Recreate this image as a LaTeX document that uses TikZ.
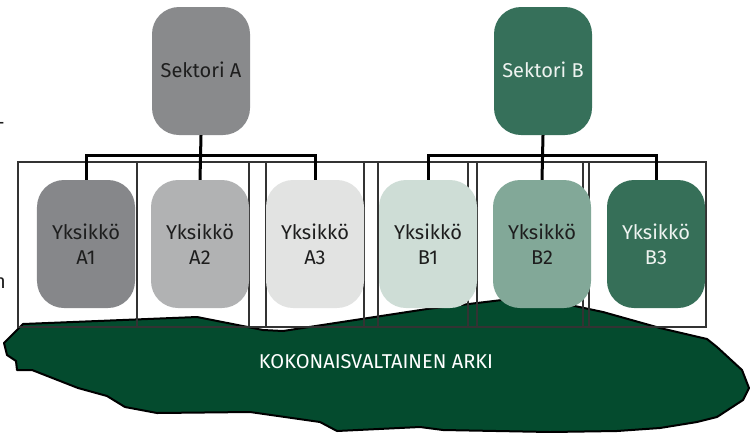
\documentclass[tikz,border=0pt]{standalone}
\usepackage{fontspec}
\setmainfont{Fira Sans}
\definecolor{sectA}{HTML}{898A8C}
\definecolor{unitAone}{HTML}{86878A}
\definecolor{unitAtwo}{HTML}{B1B2B3}
\definecolor{unitAthree}{HTML}{E2E3E2}
\definecolor{sectB}{HTML}{36705A}
\definecolor{unitBone}{HTML}{CEDDD6}
\definecolor{unitBtwo}{HTML}{82A898}
\definecolor{unitBthree}{HTML}{366F58}
\definecolor{arkigreen}{HTML}{044B2E}
\definecolor{darktext}{HTML}{1E1E1E}
\definecolor{lighttext}{HTML}{EEF3F0}
\begin{document}
\begin{tikzpicture}[x=1bp,y=-1bp,
  box/.style={rounded corners=27bp, minimum width=98bp, minimum height=128bp,
    inner sep=0pt, align=center, font=\fontsize{20bp}{25bp}\selectfont},
  conn/.style={line width=3bp},
  frameline/.style={line width=1.1bp, draw=black!80},
  blobshape/.style={fill=arkigreen, draw=black, line width=2bp, line join=round}]
\useasboundingbox (0,0) rectangle (750,432);

% cut-off fragments at the left edge
\node[anchor=base east, inner sep=0pt, font=\fontsize{20bp}{25bp}\selectfont, text=darktext] (fragn) at (6,288) {n};
\node[anchor=east, inner sep=0pt, font=\fontsize{20bp}{25bp}\selectfont, text=darktext] (fragdash) at (5,126) {-};

% everyday-life background shape
\draw[blobshape] (23,324) -- (197,317) -- (263,330) -- (283,331) -- (427,309)
  -- (502,300) -- (540,298) -- (570,305) -- (603,312) -- (660,328) -- (707,339)
  -- (717,347) -- (742,370) -- (749,388) -- (743,400) -- (717,417) -- (697,422)
  -- (660,428) -- (617,431) -- (550,432) -- (443,430) -- (420,427) -- (337,431)
  -- (320,422) -- (250,412) -- (157,413) -- (125,407) -- (107,396) -- (78,388)
  -- (32,370) -- (17,370) -- (16,361) -- (7,355) -- (4,343) -- cycle;
\node[text=white, font=\fontsize{20bp}{24bp}\selectfont] (arki) at (376,362) {KOKONAISVALTAINEN ARKI};

% column frames
\draw[frameline] (18,162) rectangle (706,327);
\foreach \xx in {137,249,266,364,378,468,477,583,589}
  \draw[frameline] (\xx,162) -- (\xx,327);

% sector and unit boxes
\node[box, fill=sectA, text=darktext] (sa) at (201,71) {\raisebox{2bp}{Sektori A}};
\node[box, fill=sectB, text=lighttext] (sb) at (543,71) {\raisebox{2bp}{Sektori B}};

\node[box, fill=unitAone, text=darktext] (a1) at (86,244) {Yksikkö\\A1};
\node[box, fill=unitAtwo, text=darktext] (a2) at (200,244) {Yksikkö\\A2};
\node[box, fill=unitAthree, text=darktext] (a3) at (315,244) {Yksikkö\\A3};
\node[box, fill=unitBone, text=darktext] (b1) at (428,244) {Yksikkö\\B1};
\node[box, fill=unitBtwo, text=darktext] (b2) at (542,244) {Yksikkö\\B2};
\node[box, fill=unitBthree, text=lighttext] (b3) at (656,244) {Yksikkö\\B3};

% org-chart connectors
\coordinate (ja) at (sa.south |- 0,155);
\coordinate (jb) at (sb.south |- 0,155);
\draw[conn] (sa.south) -- (a2.north);
\draw[conn] (a1.north) |- (ja) -| (a3.north);
\draw[conn] (sb.south) -- (b2.north);
\draw[conn] (b1.north) |- (jb) -| (b3.north);
\end{tikzpicture}
\end{document}
